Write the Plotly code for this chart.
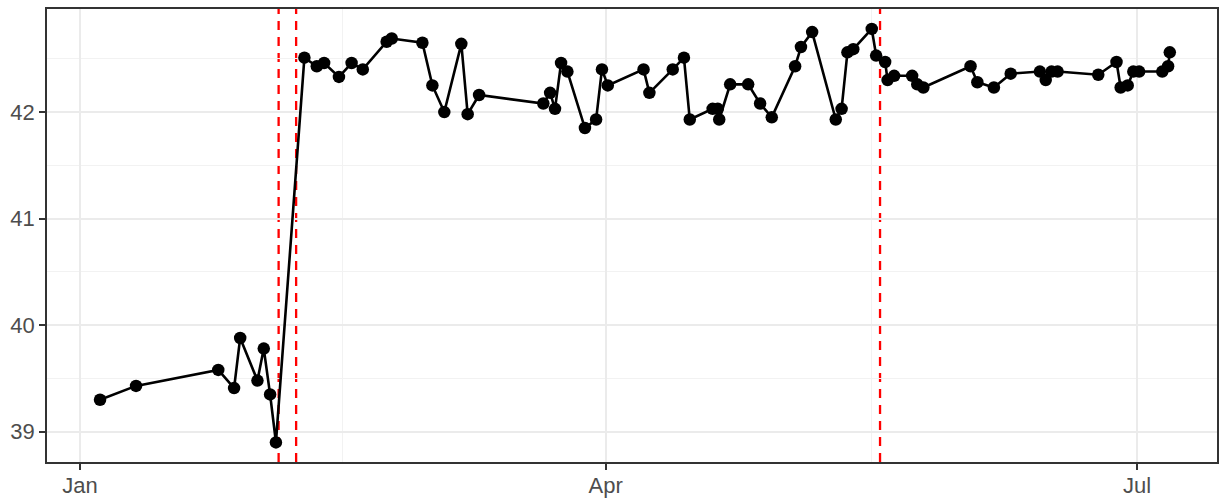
import plotly.graph_objects as go

dates = [
    "2021-01-04 10:00", "2021-01-10 14:00", "2021-01-24 16:00", "2021-01-27 09:00",
    "2021-01-28 10:00", "2021-01-31 09:00", "2021-02-01 11:00", "2021-02-02 13:00",
    "2021-02-03 13:00", "2021-02-08 10:00", "2021-02-10 13:00", "2021-02-11 19:00",
    "2021-02-14 08:00", "2021-02-16 12:00", "2021-02-18 10:00", "2021-02-22 12:00",
    "2021-02-23 09:00", "2021-02-28 15:00", "2021-03-02 08:00", "2021-03-04 09:00",
    "2021-03-07 07:00", "2021-03-08 09:00", "2021-03-10 08:00", "2021-03-21 08:00",
    "2021-03-22 12:00", "2021-03-23 08:00", "2021-03-24 09:00", "2021-03-25 11:00",
    "2021-03-28 11:00", "2021-03-30 09:00", "2021-03-31 09:00", "2021-04-01 09:00",
    "2021-04-07 12:00", "2021-04-08 12:00", "2021-04-12 12:00", "2021-04-14 10:00",
    "2021-04-15 10:00", "2021-04-19 08:00", "2021-04-20 05:00", "2021-04-20 11:00",
    "2021-04-22 08:00", "2021-04-25 10:00", "2021-04-27 11:00", "2021-04-29 11:00",
    "2021-05-03 11:00", "2021-05-04 11:00", "2021-05-06 09:00", "2021-05-10 10:00",
    "2021-05-11 10:00", "2021-05-12 10:00", "2021-05-13 10:00", "2021-05-16 14:00",
    "2021-05-17 08:00", "2021-05-18 21:00", "2021-05-19 07:00", "2021-05-20 10:00",
    "2021-05-23 12:00", "2021-05-24 09:00", "2021-05-25 10:00", "2021-06-02 12:00",
    "2021-06-03 16:00", "2021-06-06 12:00", "2021-06-09 09:00", "2021-06-14 09:00",
    "2021-06-15 09:00", "2021-06-16 09:00", "2021-06-17 10:00", "2021-06-24 09:00",
    "2021-06-27 12:00", "2021-06-28 05:00", "2021-06-29 10:00", "2021-06-30 09:00",
    "2021-07-01 09:00", "2021-07-05 08:00", "2021-07-06 08:00", "2021-07-06 15:00",
]

values = [
    39.30, 39.43, 39.58, 39.41, 39.88, 39.48, 39.78, 39.35,
    38.90, 42.51, 42.43, 42.46, 42.33, 42.46, 42.40, 42.66,
    42.69, 42.65, 42.25, 42.00, 42.64, 41.98, 42.16, 42.08,
    42.18, 42.03, 42.46, 42.38, 41.85, 41.93, 42.40, 42.25,
    42.40, 42.18, 42.40, 42.51, 41.93, 42.03, 42.03, 41.93,
    42.26, 42.26, 42.08, 41.95, 42.43, 42.61, 42.75, 41.93,
    42.03, 42.56, 42.59, 42.78, 42.53, 42.47, 42.30, 42.34,
    42.34, 42.26, 42.23, 42.43, 42.28, 42.23, 42.36, 42.38,
    42.30, 42.38, 42.38, 42.35, 42.47, 42.23, 42.25, 42.38,
    42.38, 42.38, 42.43, 42.56,
]

event_dates = ["2021-02-04", "2021-02-07", "2021-05-18"]

x_tickvals = ["2021-01-01", "2021-04-01", "2021-07-01"]
x_ticktext = ["Jan", "Apr", "Jul"]
x_minor = ["2021-02-15", "2021-05-16 12:00"]
y_tickvals = [39, 40, 41, 42]
y_minor = [39.5, 40.5, 41.5, 42.5]

fig = go.Figure()
fig.add_trace(go.Scatter(
    x=dates, y=values, mode="lines+markers",
    line=dict(color="black", width=2.6),
    marker=dict(color="black", size=12.5),
    showlegend=False,
))

for d in event_dates:
    fig.add_shape(type="line", xref="x", yref="paper", x0=d, x1=d, y0=0, y1=1,
                  line=dict(color="#FF0000", width=2.3, dash="9px,7px"), layer="below")

axis_common = dict(
    showline=True, mirror=True, linecolor="#333333", linewidth=1.6,
    ticks="outside", ticklen=6, tickwidth=1.6, tickcolor="#333333",
    gridcolor="#EBEBEB", gridwidth=1.6, zeroline=False, automargin=False,
    tickfont=dict(family="Liberation Sans, Arial, sans-serif", size=22, color="#4D4D4D"),
)

fig.update_layout(
    width=1219, height=499,
    margin=dict(l=47, r=2, t=9, b=37),
    plot_bgcolor="white", paper_bgcolor="white",
    xaxis=dict(
        **axis_common,
        type="date",
        range=["2020-12-26 08:00", "2021-07-14 17:00"],
        tickmode="array", tickvals=x_tickvals, ticktext=x_ticktext,
        ticklabelstandoff=-3,
        minor=dict(tickmode="array", tickvals=x_minor, showgrid=True,
                   gridcolor="#F2F2F2", gridwidth=0.9, ticks=""),
    ),
    yaxis=dict(
        **axis_common,
        range=[38.716, 42.967],
        tickmode="array", tickvals=y_tickvals,
        minor=dict(tickmode="array", tickvals=y_minor, showgrid=True,
                   gridcolor="#F2F2F2", gridwidth=0.9, ticks=""),
    ),
)

fig.write_html("out.html", config={"displayModeBar": False},
               post_script="document.body.style.margin='0';document.body.style.overflow='hidden';")
